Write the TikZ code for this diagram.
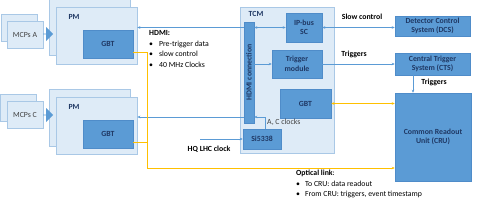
\documentclass[tikz,border=0pt]{standalone}
\usepackage{fontspec}
\setmainfont{Carlito}
\usepackage{xcolor}
\usetikzlibrary{arrows.meta,shapes.arrows}
\definecolor{boxlight}{HTML}{DEEBF7}
\definecolor{boxedge}{HTML}{A9C8E6}
\definecolor{boxdark}{HTML}{5B9BD5}
\definecolor{darkedge}{HTML}{4F8CC9}
\definecolor{navy}{HTML}{1F3864}
\definecolor{greytext}{HTML}{404040}
\definecolor{optyellow}{HTML}{FFC000}

\begin{document}
\begin{tikzpicture}[
    x=1pt,
    y=-1pt,
    every node/.style={font=\fontsize{7.8}{9}\selectfont},
    light/.style={draw=boxedge, fill=boxlight, line width=0.7pt, inner sep=0pt},
    dark/.style={draw=darkedge, fill=boxdark, line width=0.5pt, inner sep=0pt, align=center, text=navy, font=\fontsize{7.8}{9.5}\selectfont\bfseries},
    mcp/.style={light, minimum width=36, minimum height=27, text=greytext},
    pm/.style={light, minimum width=81, minimum height=57},
    title/.style={text=navy, font=\fontsize{7.8}{9}\selectfont\bfseries},
    bold/.style={font=\fontsize{7.8}{9}\selectfont\bfseries},
    feed/.style={single arrow, fill=boxdark, draw=none, inner sep=0pt, minimum height=10, minimum width=14, single arrow head extend=3},
    arrow/.style={-{Stealth[length=3pt,width=2.6pt]}, line width=0.6pt, draw=boxdark},
    optical/.style={line width=0.9pt, draw=optyellow}
]
\useasboundingbox (0,0) rectangle (480,206);

% detector side
\node[mcp] (mcpAback) at (19,27.5) {};
\node[mcp] (mcpA) at (25,34.5) {MCPs A};
\node[mcp] (mcpCback) at (18,107.5) {};
\node[mcp] (mcpC) at (25,114.5) {MCPs C};

\node[pm] (pmAback) at (90,27) {};
\node[pm] (pmA) at (96.5,35.5) {};
\node[pm] (pmCback) at (90,118) {};
\node[pm] (pmC) at (96.5,125.5) {};
\node[title] (pmAlab) at (74,17) {PM};
\node[title] (pmClab) at (74,107) {PM};
\node[dark, minimum width=50, minimum height=28] (gbtA) at (108,44) {GBT};
\node[dark, minimum width=50, minimum height=28] (gbtC) at (108,134) {GBT};

\node[feed] (feedA) at (48,34) {};
\node[feed] (feedC) at (48,115) {};

% TCM
\node[light, minimum width=94, minimum height=146] (tcm) at (287,80) {};
\node[title] (tcmlab) at (256,14) {TCM};
\node[dark, minimum width=10, minimum height=101] (hdmi) at (249,72.5) {};
\node[title, rotate=90] (hdmilab) at (hdmi.center) {HDMI connection};
\node[dark, minimum width=36, minimum height=29] (ipbus) at (304,27.5) {IP-bus\\SC};
\node[dark, minimum width=50, minimum height=28] (trig) at (297,64) {Trigger\\module};
\node[dark, minimum width=51, minimum height=29] (gbtT) at (305.5,103.5) {GBT};
\node[dark, minimum width=38, minimum height=20] (si) at (262,139) {Si5338};

% central systems
\node[dark, minimum width=75, minimum height=20] (dcs) at (432.5,26) {Detector Control\\System (DCS)};
\node[dark, minimum width=75, minimum height=22] (cts) at (432.5,64) {Central Trigger\\System (CTS)};
\node[dark, minimum width=76, minimum height=88] (cru) at (433,137) {Common Readout\\Unit (CRU)};

% blue links
\coordinate (clk) at (265,117);
\coordinate (lhc) at (200,139);
\draw[arrow] (hdmi.west |- ipbus.west) -- (pmA.east |- ipbus.west);
\draw[arrow] (hdmi.west |- clk) -- (pmC.east |- clk);
\draw[arrow, {Stealth[length=3pt,width=2.6pt]}-{Stealth[length=3pt,width=2.6pt]}] (hdmi.east |- ipbus.west) -- (ipbus.west);
\draw[arrow] (hdmi.east |- trig.west) -- (trig.west);
\draw[arrow] (si.north -| clk) -- (clk) -- (hdmi.east |- clk);
\draw[arrow] (lhc) -- (si.west);
\draw[arrow, {Stealth[length=3pt,width=2.6pt]}-{Stealth[length=3pt,width=2.6pt]}] (ipbus.east) -- (ipbus.east -| dcs.west);
\draw[arrow] (trig.east) -- (trig.east -| cts.west);
\draw[arrow] ([xshift=-19.5pt]cts.south) -- ([xshift=-19.5pt]cts.south |- cru.north);

% optical links
\coordinate (bend) at (147,168);
\draw[optical] ([yshift=-8pt]gbtA.east) -| (bend);
\draw[optical] ([yshift=-8pt]gbtC.east) -- ([yshift=-8pt]gbtC.east -| bend);
\draw[optical, -{Stealth[length=3pt,width=2.6pt]}] (bend) -- (bend -| cru.west);
\draw[optical, {Stealth[length=3pt,width=2.6pt]}-{Stealth[length=3pt,width=2.6pt]}] (gbtT.east) -- (gbtT.east -| cru.west);

% labels
\node[bold] (slowlab) at (362,17) {Slow control};
\node[bold] (triglab) at (354,54) {Triggers};
\node[bold] (crutrig) at (434,82) {Triggers};
\node[bold] (lhclab) at (209,149) {HQ LHC clock};
\node[anchor=west, inner sep=0pt, text=greytext] (clklab) at (267,122) {A, C clocks};

\node[anchor=north west, align=left, inner sep=0pt, font=\fontsize{7.8}{10.8}\selectfont] (hdmitxt) at (149,30)
  {\textbf{HDMI:}\\
   \textbullet\hspace{6pt}Pre-trigger data\\
   \textbullet\hspace{6pt}slow control\\
   \textbullet\hspace{6pt}40 MHz Clocks};
\node[anchor=north west, align=left, inner sep=0pt, font=\fontsize{7.8}{10.5}\selectfont] (opttxt) at (296,170)
  {\textbf{Optical link}:\\
   \textbullet\hspace{5pt}To CRU: data readout\\
   \textbullet\hspace{5pt}From CRU: triggers, event timestamp};
\end{tikzpicture}
\end{document}
